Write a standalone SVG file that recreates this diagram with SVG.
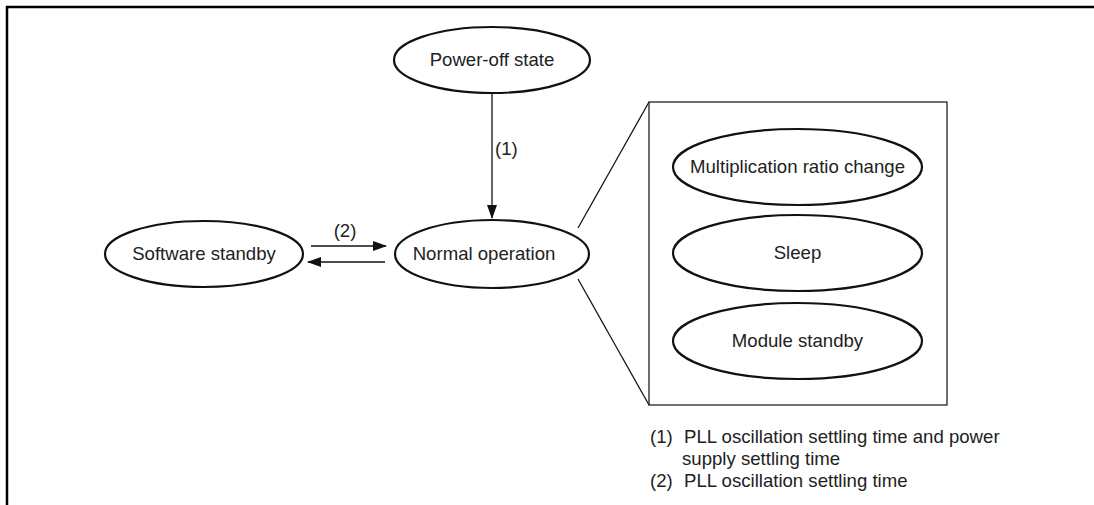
<svg xmlns="http://www.w3.org/2000/svg" width="1094" height="505" viewBox="0 0 1094 505">
<style>
.frame{fill:none;stroke:#000;stroke-width:2.5}
.node{fill:#fff;stroke:#111;stroke-width:2.2}
.t{font-family:"Liberation Sans",Arial,sans-serif;font-size:18.6px;fill:#222;text-anchor:middle}
.n{font-family:"Liberation Sans",Arial,sans-serif;font-size:18.6px;fill:#222}
.ln{fill:none;stroke:#111;stroke-width:1.3}
</style>
<defs>
<marker id="ah" markerWidth="14" markerHeight="10" refX="13" refY="5" orient="auto" markerUnits="userSpaceOnUse">
<path d="M0,0 L14,5 L0,10 Z" fill="#111"/>
</marker>
</defs>
<rect width="1094" height="505" fill="#fff"/>
<path class="frame" d="M7,505 V7 H1094"/>
<g id="connectors">
<line class="ln" x1="492" y1="94" x2="492" y2="218" marker-end="url(#ah)"/>
<line class="ln" x1="311" y1="246" x2="386" y2="246" marker-end="url(#ah)"/>
<line class="ln" x1="385" y1="262" x2="308" y2="262" marker-end="url(#ah)"/>
<line class="ln" x1="578" y1="228" x2="649" y2="102"/>
<line class="ln" x1="578" y1="279" x2="649" y2="405"/>
<text class="n" x="495" y="155">(1)</text>
<text class="t" x="345" y="237">(2)</text>
</g>
<g id="power-off">
<ellipse class="node" cx="492" cy="60" rx="98" ry="33"/>
<text class="t" x="492" y="66">Power-off state</text>
</g>
<g id="software-standby">
<ellipse class="node" cx="204" cy="254" rx="99" ry="33"/>
<text class="t" x="204" y="260">Software standby</text>
</g>
<g id="normal-operation">
<ellipse class="node" cx="492" cy="254" rx="97" ry="34"/>
<text class="t" x="484" y="260">Normal operation</text>
</g>
<g id="detail-box">
<rect x="649" y="102" width="298" height="303" fill="none" stroke="#222" stroke-width="1.3"/>
</g>
<g id="multiplication">
<ellipse class="node" cx="797.5" cy="167" rx="124.5" ry="38"/>
<text class="t" x="797.5" y="173">Multiplication ratio change</text>
</g>
<g id="sleep">
<ellipse class="node" cx="797.5" cy="253" rx="124.5" ry="38"/>
<text class="t" x="797.5" y="259">Sleep</text>
</g>
<g id="module-standby">
<ellipse class="node" cx="797.5" cy="341" rx="124.5" ry="38"/>
<text class="t" x="797.5" y="347">Module standby</text>
</g>
<g id="notes">
<text class="n" x="650" y="443">(1)</text>
<text class="n" x="684" y="443">PLL oscillation settling time and power</text>
<text class="n" x="682" y="465">supply settling time</text>
<text class="n" x="650" y="487">(2)</text>
<text class="n" x="684" y="487">PLL oscillation settling time</text>
</g>
</svg>
